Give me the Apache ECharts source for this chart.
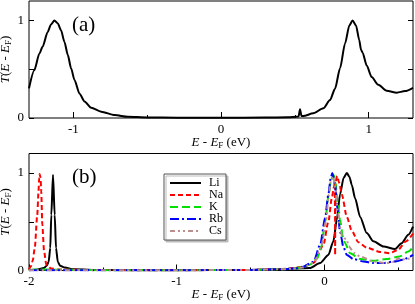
<!DOCTYPE html>
<html><head><meta charset="utf-8">
<script src="https://cdn.jsdelivr.net/npm/echarts@6/dist/echarts.min.js"></script>
<style>html,body{margin:0;padding:0;background:#fff}#c{width:415px;height:304px}</style>
</head><body><div id="c"></div>
<script>
// Panel (a): single transmission curve [E - EF (eV), T]
const curveA = [[-1.3,0.304],[-1.264,0.49],[-1.23,0.66],[-1.208,0.73],[-1.174,0.88],[-1.151,0.96],[-1.128,1.0],[-1.105,0.97],[-1.083,0.90],[-1.06,0.78],[-1.037,0.645],[-1.015,0.51],[-0.992,0.39],[-0.958,0.25],[-0.924,0.17],[-0.879,0.105],[-0.811,0.065],[-0.72,0.03],[-0.63,0.013],[-0.5,0.006],[-0.3,0.003],[0,0.002],[0.3,0.004],[0.45,0.008],[0.525,0.015],[0.535,0.09],[0.545,0.02],[0.557,0.02],[0.625,0.048],[0.693,0.10],[0.738,0.184],[0.772,0.30],[0.806,0.51],[0.84,0.765],[0.869,0.95],[0.891,1.0],[0.914,0.95],[0.936,0.80],[0.948,0.70],[0.952,0.69],[0.959,0.67],[0.986,0.54],[1.02,0.42],[1.065,0.34],[1.122,0.28],[1.19,0.26],[1.246,0.276],[1.3,0.31]];

// Panel (b): one curve per alkali metal
const seriesNames = ['Li','Na','K','Rb','Cs'];
const curveLi = [[-2,0.003],[-1.95,0.008],[-1.9,0.025],[-1.88,0.05],[-1.867,0.09],[-1.856,0.23],[-1.849,0.57],[-1.8375,0.98],[-1.826,0.57],[-1.817,0.23],[-1.805,0.09],[-1.79,0.05],[-1.758,0.03],[-1.7,0.012],[-1.5,0.004],[-1.0,0.003],[-0.5,0.006],[-0.3,0.012],[-0.2,0.02],[-0.1,0.025],[-0.029,0.076],[0.027,0.16],[0.061,0.30],[0.084,0.52],[0.106,0.78],[0.13,0.95],[0.152,1.0],[0.17,0.96],[0.185,0.88],[0.208,0.74],[0.242,0.55],[0.287,0.384],[0.332,0.30],[0.4,0.246],[0.478,0.22],[0.523,0.28],[0.568,0.366],[0.6,0.45]];
const curveNa = [[-2,0.01],[-1.988,0.04],[-1.975,0.1],[-1.961,0.23],[-1.944,0.57],[-1.936,0.8],[-1.931,0.95],[-1.928,0.99],[-1.922,0.95],[-1.917,0.81],[-1.91,0.47],[-1.898,0.2],[-1.883,0.06],[-1.85,0.02],[-1.8,0.01],[-1.5,0.004],[-1,0.003],[-0.5,0.006],[-0.3,0.015],[-0.2,0.025],[-0.15,0.04],[-0.074,0.076],[-0.007,0.26],[0.027,0.5],[0.05,0.74],[0.065,0.86],[0.071,0.9],[0.0722,0.5],[0.0728,0.16],[0.0734,0.5],[0.076,0.91],[0.086,0.97],[0.1,0.9],[0.118,0.78],[0.152,0.55],[0.185,0.41],[0.23,0.29],[0.287,0.235],[0.377,0.19],[0.44,0.178],[0.497,0.21],[0.554,0.30],[0.6,0.38]];
const curveK = [[-2,0.005],[-1.95,0.01],[-1.5,0.003],[-1,0.003],[-0.5,0.006],[-0.3,0.012],[-0.2,0.02],[-0.15,0.035],[-0.1,0.06],[-0.05,0.12],[-0.02,0.25],[0.005,0.5],[0.027,0.76],[0.045,0.93],[0.063,0.98],[0.075,0.9],[0.09,0.7],[0.106,0.52],[0.125,0.35],[0.14,0.28],[0.174,0.178],[0.242,0.117],[0.332,0.10],[0.42,0.117],[0.51,0.144],[0.568,0.195],[0.6,0.24]];
const curveRb = [[-2,0.003],[-1.5,0.003],[-1,0.003],[-0.5,0.006],[-0.3,0.012],[-0.2,0.02],[-0.15,0.035],[-0.074,0.09],[-0.029,0.26],[0.005,0.54],[0.027,0.78],[0.043,0.95],[0.054,1.0],[0.072,0.88],[0.088,0.64],[0.106,0.40],[0.129,0.24],[0.152,0.16],[0.197,0.117],[0.265,0.092],[0.332,0.076],[0.4,0.076],[0.467,0.092],[0.535,0.11],[0.58,0.144],[0.6,0.16]];
const curveCs = [[-2,0.003],[-1,0.003],[-0.5,0.006],[-0.3,0.012],[-0.2,0.02],[-0.15,0.03],[-0.07,0.08],[-0.02,0.25],[0.01,0.5],[0.03,0.78],[0.045,0.93],[0.058,0.97],[0.075,0.85],[0.09,0.62],[0.105,0.45],[0.12,0.35],[0.135,0.33],[0.15,0.32],[0.165,0.25],[0.2,0.18],[0.242,0.144],[0.332,0.092],[0.42,0.076],[0.48,0.09],[0.497,0.127],[0.52,0.11],[0.56,0.12],[0.6,0.13]];

// Axis tick labels
const xLabelsA = [-1, 0, 1];
const xMinorA = [-0.5, 0.5];
const xLabelsB = [-2, -1, 0];
const xMinorB = [-1.5, -0.5, 0.5];
const yLabels = [0, 1];
const yTicks = [0, 0.5, 1];

const FONT = 'Liberation Serif';
const chart = echarts.init(document.getElementById('c'), null, {renderer: 'canvas'});

const nameRich = {
  i: {fontStyle: 'italic', fontFamily: FONT, fontSize: 13, color: '#000'},
  n: {fontFamily: FONT, fontSize: 13, color: '#000'},
  s: {fontFamily: FONT, fontSize: 9, color: '#000', padding: [6, 0, 0, 0]}
};
const xName = '{i|E}{n| - }{i|E}{s|F}{n| (eV)}';
const yName = '{i|T}{n|(}{i|E}{n| - }{i|E}{s|F}{n|)}';

function xMain(grid, min, max, labels) {
  return {
    type: 'value', gridIndex: grid, min: min, max: max, position: 'bottom',
    name: xName, nameLocation: 'middle', nameGap: 17, nameMoveOverlap: false,
    nameTextStyle: {rich: nameRich},
    axisLine: {show: false, onZero: false},
    splitLine: {show: false},
    axisTick: {inside: true, length: 6, lineStyle: {color: '#000'}, customValues: labels},
    axisLabel: {customValues: labels, fontFamily: FONT, fontSize: 13, color: '#000', margin: 5}
  };
}
function xMinor(grid, min, max, vals) {
  return {
    type: 'value', gridIndex: grid, min: min, max: max, position: 'bottom',
    axisLine: {show: false, onZero: false}, splitLine: {show: false},
    axisTick: {inside: true, length: 3, lineStyle: {color: '#000'}, customValues: vals},
    axisLabel: {show: false}
  };
}
function yMain(grid) {
  return {
    type: 'value', gridIndex: grid, min: 0, max: 1.2, position: 'left',
    name: yName, nameLocation: 'middle', nameGap: 16, nameRotate: 90, nameMoveOverlap: false,
    nameTextStyle: {rich: nameRich},
    axisLine: {show: false, onZero: false}, splitLine: {show: false},
    axisTick: {inside: true, length: 5, lineStyle: {color: '#000'}, customValues: yTicks},
    axisLabel: {customValues: yLabels, fontFamily: FONT, fontSize: 13, color: '#000', margin: 5}
  };
}
function yRight(grid) {
  return {
    type: 'value', gridIndex: grid, min: 0, max: 1.2, position: 'right',
    axisLine: {show: false, onZero: false}, splitLine: {show: false},
    axisTick: {inside: true, length: 5, lineStyle: {color: '#000'}, customValues: yTicks},
    axisLabel: {show: false}
  };
}

const colors = ['#000000', '#ff0000', '#00e000', '#0000ff', '#bc8f8f'];
const dashes = ['solid', [5, 3], [8, 4], [9, 3, 2, 3], [5, 3, 2, 3, 2, 3]];
const curvesB = [curveLi, curveNa, curveK, curveRb, curveCs];

const seriesB = seriesNames.map((n, i) => ({
  name: n, type: 'line', xAxisIndex: 2, yAxisIndex: 2, data: curvesB[i],
  showSymbol: false, symbol: 'none', smooth: 0.25, smoothMonotone: 'x',
  lineStyle: {color: colors[i], width: 2, type: dashes[i]},
  itemStyle: {color: colors[i]}
}));

chart.setOption({
  animation: false,
  backgroundColor: '#fff',
  title: [
    {text: '(a)', left: 72, top: 15, padding: 0, textStyle: {fontFamily: FONT, fontSize: 21, fontWeight: 'normal', color: '#000'}},
    {text: '(b)', left: 72, top: 167, padding: 0, textStyle: {fontFamily: FONT, fontSize: 21, fontWeight: 'normal', color: '#000'}}
  ],
  grid: [
    {left: 29, top: 1, width: 384, height: 117, show: true, borderColor: '#000', borderWidth: 1, backgroundColor: 'transparent', outerBoundsMode: 'none', containLabel: false},
    {left: 29, top: 153.5, width: 384, height: 117, show: true, borderColor: '#000', borderWidth: 1, backgroundColor: 'transparent', outerBoundsMode: 'none', containLabel: false}
  ],
  xAxis: [
    xMain(0, -1.3, 1.3, xLabelsA), xMinor(0, -1.3, 1.3, xMinorA),
    xMain(1, -2, 0.6, xLabelsB), xMinor(1, -2, 0.6, xMinorB)
  ],
  yAxis: [
    yMain(0), yRight(0), yMain(1), yRight(1)
  ],
  legend: {
    data: seriesNames, orient: 'vertical', left: 164, top: 174,
    padding: [3, 3, 3, 5], itemWidth: 31, itemHeight: 11, itemGap: 0,
    backgroundColor: '#fff', borderColor: '#555', borderWidth: 1,
    shadowColor: '#bbb', shadowOffsetX: 2, shadowOffsetY: 2, shadowBlur: 0,
    itemStyle: {opacity: 0},
    textStyle: {fontFamily: FONT, fontSize: 12, color: '#000', padding: [0, 0, 0, 3]}
  },
  series: [
    {name: 'a', type: 'line', xAxisIndex: 0, yAxisIndex: 0, data: curveA,
     showSymbol: false, symbol: 'none', smooth: 0.25, smoothMonotone: 'x',
     lineStyle: {color: '#000', width: 2}}
  ].concat(seriesB)
});
</script></body></html>
